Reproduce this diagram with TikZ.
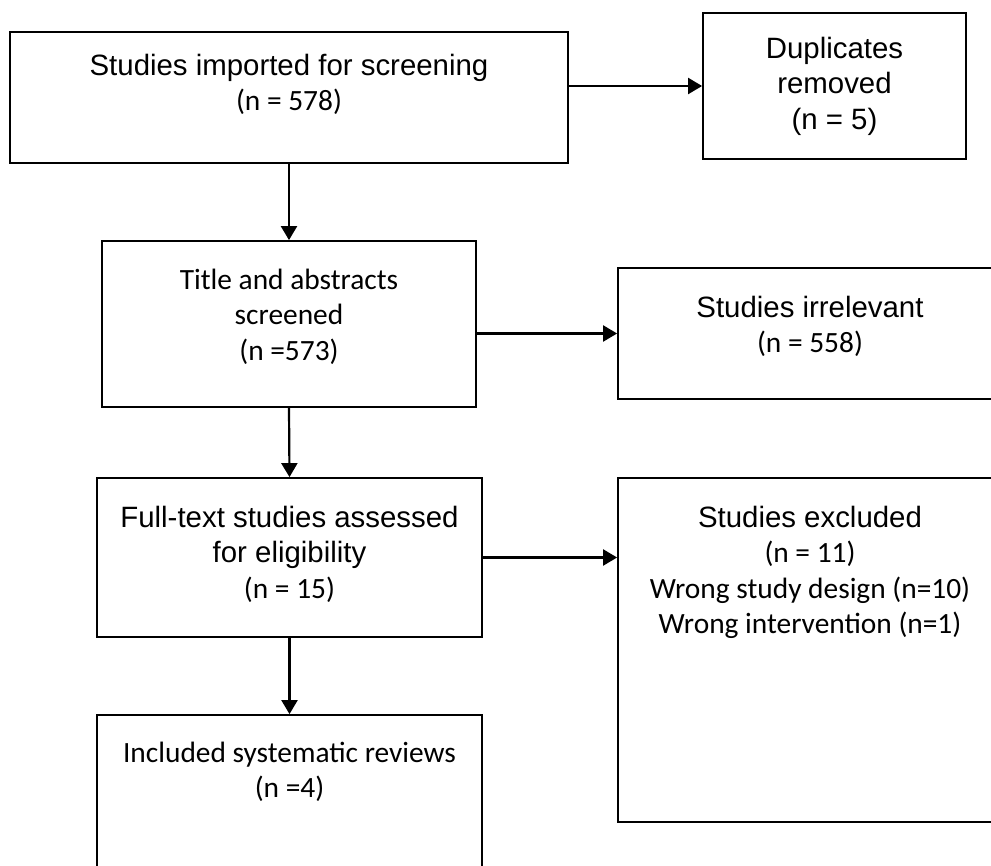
\documentclass[tikz,border=0pt]{standalone}
\usepackage{fontspec}
\setmainfont{Carlito}
\newfontfamily\arialfont{Liberation Sans}
\usetikzlibrary{arrows.meta,positioning}

\begin{document}
\begin{tikzpicture}[x=0.5pt,y=-0.5pt,line width=0.9pt,>={Triangle[length=7pt,width=8pt]},
  box/.style={draw,rectangle,inner sep=0pt},
  txt/.style={align=center,inner sep=0pt,font=\fontsize{14.7}{17.75}\selectfont},
  arr/.style={->,line width=1.1pt}]
\useasboundingbox (0,0) rectangle (991,866);
% boxes
\node[box,minimum width=279pt,minimum height=65.5pt] (imp) at (289,97.5) {};
\node[box,minimum width=131.5pt,minimum height=73pt] (dup) at (834.5,86) {};
\node[box,minimum width=187pt,minimum height=83pt] (tas) at (289,324) {};
\node[box,minimum width=192pt,minimum height=65.5pt] (irr) at (810,333.5) {};
\node[box,minimum width=192.5pt,minimum height=79.5pt] (fts) at (289.5,557.5) {};
\node[box,minimum width=192pt,minimum height=172pt] (exc) at (810,650) {};
\node[box,minimum width=192.5pt,minimum height=85pt] (inc) at (289.5,800) {};
% texts
\node[txt,below=11pt of imp.north] (impt) {{\arialfont Studies imported for screening}\\(n = 578)};
\node[txt,below=12pt of dup.north,font=\arialfont\fontsize{14.7}{17.75}\selectfont] (dupt) {Duplicates\\removed\\(n = 5)};
\node[txt,below=14pt of tas.north] (tast) {Title and abstracts\\screened\\(n =573)};
\node[txt,below=14pt of irr.north] (irrt) {{\arialfont Studies irrelevant}\\(n = 558)};
\node[txt,below=14pt of fts.north] (ftst) {{\arialfont Full-text studies assessed}\\{\arialfont for eligibility}\\(n = 15)};
\node[txt,below=14pt of exc.north] (exct) {{\arialfont Studies excluded}\\(n = 11)\\Wrong study design (n=10)\\Wrong intervention (n=1)};
\node[txt,below=13.5pt of inc.north] (inct) {Included systematic reviews\\(n =4)};
% arrows
\draw[arr] (imp.south) -- (tas.north);
\draw[arr] (tas.south) -- (fts.north);
\draw[arr] (fts.south) -- (inc.north);
\draw[arr] (imp.east |- dup.west) -- (dup.west);
\draw[arr] (tas.east |- irr.west) -- (irr.west);
\draw[arr] (fts.east) -- (fts.east -| exc.west);
\end{tikzpicture}
\end{document}
